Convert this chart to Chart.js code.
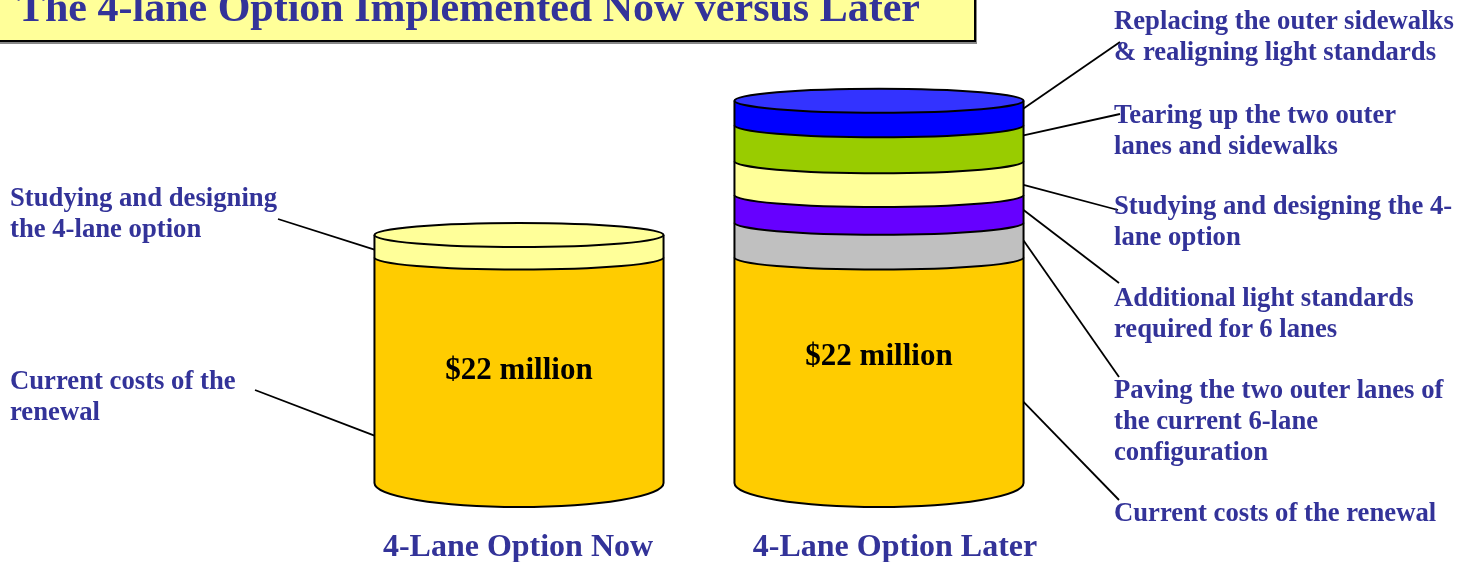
<!DOCTYPE html>
<html>
<head>
<meta charset="utf-8">
<script src="https://cdn.jsdelivr.net/npm/chart.js@4.4.1/dist/chart.umd.min.js"></script>
<style>
html, body { margin: 0; padding: 0; background: #fff; }
#wrap { position: relative; width: 1473px; height: 562px; overflow: hidden;
  font-family: "Liberation Serif", "Times New Roman", serif; font-weight: bold; }
#cv { position: absolute; left: 0; top: 0; }
#title-box { position: absolute; left: -3px; top: -20px; width: 979px; height: 62px; box-sizing: border-box;
  background: #ffff99; border: 2px solid #000; box-shadow: 1px 2px 0 #888; }
#title { position: absolute; left: 17px; top: -14px; font-size: 42px; line-height: 42px; color: #333399; white-space: nowrap; }
.lbl { position: absolute; color: #333399; font-size: 26.7px; line-height: 31px; white-space: nowrap; }
.cat { position: absolute; color: #333399; font-size: 32px; line-height: 32px; white-space: nowrap; transform: translateX(-50%); }
.amt { position: absolute; color: #000; font-size: 31px; line-height: 31px; white-space: nowrap; transform: translateX(-50%); }
</style>
</head>
<body>
<div id="wrap">
  <canvas id="cv" width="1473" height="562"></canvas>
  <div id="title-box"></div>
  <div id="title">The 4-lane Option Implemented Now versus Later</div>
</div>
<script>
// categories + stacked cost pieces ($ million)
var categories = ["4-Lane Option Now", "4-Lane Option Later"];
var renewal   = [22, 22];
var paving    = [0, 3.4];
var lightStd  = [0, 2.7];
var studying  = [2.2, 3.3];
var tearing   = [0, 3.5];
var replacing = [0, 2.4];
var amountText = ["$22 million", "$22 million"];

var segNames  = ["Current costs of the renewal", "Paving the two outer lanes", "Additional light standards",
                 "Studying and designing", "Tearing up outer lanes", "Replacing sidewalks"];
var segColors = ["#ffcc00", "#c0c0c0", "#6600ff", "#ffff99", "#99cc00", "#0000ff"];
var topColors = ["#ffcc00", "#d0d0d0", "#7f33ff", "#ffff99", "#aadd22", "#3333ff"];

// callouts: ds/cat = which piece, frac = where on the side the leader hits
var callouts = [
  { lines: ["Replacing the outer sidewalks", "& realigning light standards"], left: 1114, top: 5, ds: 5, cat: 1, frac: 0.32, ax: 1120, ay: 42 },
  { lines: ["Tearing up the two outer", "lanes and sidewalks"], left: 1114, top: 99, ds: 4, cat: 1, frac: 0.28, ax: 1120, ay: 114 },
  { lines: ["Studying and designing the 4-", "lane option"], left: 1114, top: 190, ds: 3, cat: 1, frac: 0.7, ax: 1118, ay: 210 },
  { lines: ["Additional light standards", "required for 6 lanes"], left: 1114, top: 282, ds: 2, cat: 1, frac: 0.54, ax: 1119, ay: 283 },
  { lines: ["Paving the two outer lanes of", "the current 6-lane", "configuration"], left: 1114, top: 374, ds: 1, cat: 1, frac: 0.51, ax: 1119, ay: 377 },
  { lines: ["Current costs of the renewal"], left: 1114, top: 497, ds: 0, cat: 1, frac: 0.64, ax: 1119, ay: 500 },
  { lines: ["Studying and designing", "the 4-lane option"], left: 10, top: 182, ds: 3, cat: 0, frac: 0.65, ax: 278, ay: 219 },
  { lines: ["Current costs of the", "renewal"], left: 10, top: 365, ds: 0, cat: 0, frac: 0.79, ax: 255, ay: 390 }
];

var RY = 12, BOTTOM_RY = 24;

var seriesData = [renewal, paving, lightStd, studying, tearing, replacing];
var datasets = seriesData.map(function(arr, i) {
  return { label: segNames[i], data: arr, backgroundColor: "rgba(0,0,0,0)", borderWidth: 0 };
});

// draws the stacked pieces as cylinder slices, plus the leader lines
var cylinderPlugin = {
  id: "cylinders",
  afterDatasetsDraw: function(chart) {
    var ctx = chart.ctx;
    ctx.save();
    ctx.lineWidth = 2;
    ctx.strokeStyle = "#000";
    for (var c = 0; c < categories.length; c++) {
      var last = null, lastIdx = -1;
      for (var d = 0; d < datasets.length; d++) {
        if (!seriesData[d][c]) continue;
        var el = chart.getDatasetMeta(d).data[c];
        var rx = el.width / 2, top = el.y, base = el.base, cx = el.x;
        var ry = (lastIdx < 0) ? BOTTOM_RY : RY;
        ctx.beginPath();
        ctx.moveTo(cx - rx, top);
        ctx.lineTo(cx - rx, base);
        ctx.ellipse(cx, base, rx, ry, 0, Math.PI, 0, true);
        ctx.lineTo(cx + rx, top);
        ctx.fillStyle = segColors[d];
        ctx.fill();
        ctx.stroke();
        last = el; lastIdx = d;
      }
      if (last) {
        ctx.beginPath();
        ctx.ellipse(last.x, last.y, last.width / 2, RY, 0, 0, Math.PI * 2);
        ctx.fillStyle = topColors[lastIdx];
        ctx.fill();
        ctx.stroke();
      }
    }
    // leader lines
    ctx.lineWidth = 1.8;
    callouts.forEach(function(co) {
      var el = chart.getDatasetMeta(co.ds).data[co.cat];
      var side = co.ax > el.x ? 1 : -1;
      var bx = el.x + side * el.width / 2;
      var by = el.y + (el.base - el.y) * co.frac;
      ctx.beginPath();
      ctx.moveTo(co.ax, co.ay);
      ctx.lineTo(bx, by);
      ctx.stroke();
    });
    ctx.restore();
  }
};

var chart = new Chart(document.getElementById("cv").getContext("2d"), {
  type: "bar",
  data: { labels: categories, datasets: datasets },
  options: {
    responsive: false,
    animation: false,
    events: [],
    layout: { padding: { left: 339, right: 414, top: 73, bottom: 79 } },
    datasets: { bar: { categoryPercentage: 0.803, barPercentage: 1 } },
    plugins: { legend: { display: false }, tooltip: { enabled: false } },
    scales: {
      x: { stacked: true, display: false },
      y: { stacked: true, display: false, min: 0, max: 40 }
    }
  },
  plugins: [cylinderPlugin]
});

// html text: callouts, category names, amounts
var wrap = document.getElementById("wrap");
callouts.forEach(function(co) {
  var div = document.createElement("div");
  div.className = "lbl";
  div.style.left = co.left + "px";
  div.style.top = co.top + "px";
  div.innerHTML = co.lines.join("<br>");
  wrap.appendChild(div);
});

var catX = [518, 895];
categories.forEach(function(name, i) {
  var div = document.createElement("div");
  div.className = "cat";
  div.style.left = catX[i] + "px";
  div.style.top = "529px";
  div.textContent = name;
  wrap.appendChild(div);
});

var amtTop = [353, 339];
amountText.forEach(function(txt, i) {
  var el = chart.getDatasetMeta(0).data[i];
  var div = document.createElement("div");
  div.className = "amt";
  div.style.left = el.x + "px";
  div.style.top = amtTop[i] + "px";
  div.textContent = txt;
  wrap.appendChild(div);
});
</script>
</body>
</html>
